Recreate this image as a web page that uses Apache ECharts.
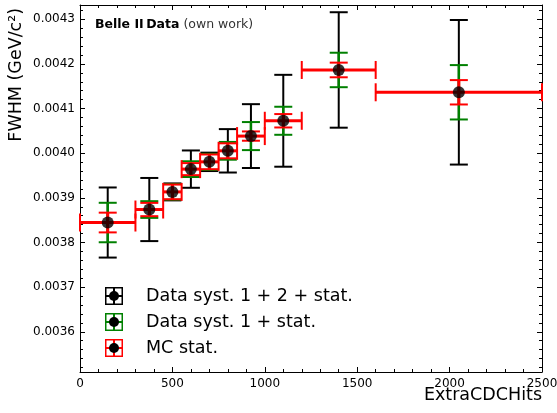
<!DOCTYPE html>
<html>
<head>
<meta charset="utf-8">
<script src="https://cdn.jsdelivr.net/npm/echarts@6/dist/echarts.min.js"></script>
<style>
  html, body { margin: 0; padding: 0; background: #fff; }
  #chart { width: 557px; height: 413px; }
</style>
</head>
<body>
<div id="chart"></div>
<script>
// Bins in ExtraCDCHits and the measured FWHM per bin
const binLow  = [0, 300, 450, 550, 650, 750, 850, 1000, 1200, 1600];
const binHigh = [300, 450, 550, 650, 750, 850, 1000, 1200, 1600, 2500];
const binCenter = [150, 375, 500, 600, 700, 800, 925, 1100, 1400, 2050];
const fwhm = [0.0038448, 0.0038739, 0.0039134, 0.0039644, 0.0039807,
              0.0040054, 0.0040384, 0.0040727, 0.0041865, 0.0041365];
// Uncertainties (half widths)
const errSyst12Stat = [0.0000785, 0.0000707, 0.0000190, 0.0000418, 0.0000206,
                       0.0000486, 0.0000715, 0.0001029, 0.0001293, 0.0001619];
const errSyst1Stat  = [0.0000442, 0.0000187, 0.0000175, 0.0000176, 0.0000180,
                       0.0000199, 0.0000314, 0.0000314, 0.0000386, 0.0000609];
const errMcStat     = [0.0000221, 0.0000149, 0.0000165, 0.0000135, 0.0000165,
                       0.0000168, 0.0000104, 0.0000150, 0.0000164, 0.0000273];

const seriesNames = ['Data syst. 1 + 2 + stat.', 'Data syst. 1 + stat.', 'MC stat.'];
const seriesColors = ['#000000', '#008000', '#ff0000'];

// Axis ticks
const xTicks = [0, 500, 1000, 1500, 2000, 2500];
const yTicks = [0.0036, 0.0037, 0.0038, 0.0039, 0.0040, 0.0041, 0.0042, 0.0043];
const yMin = 0.00351, yMax = 0.004332;
const yMinorTicks = [];
for (let k = 176; k <= 216; k++) {
  if (k % 5 !== 0) yMinorTicks.push(Number((k * 2e-5).toFixed(5)));
}

const FONT = 'DejaVu Sans';

function rows(err) {
  return binCenter.map((x, i) => [x, fwhm[i], err[i], binLow[i], binHigh[i]]);
}

function line(x1, y1, x2, y2, color, w) {
  return { type: 'line', shape: { x1, y1, x2, y2 },
           style: { stroke: color, lineWidth: w, lineCap: 'butt' } };
}

// Vertical error bar with caps; optionally the horizontal bin extent
function errorBarRenderer(color, vWidth, withBin) {
  const capHalf = 9;
  return function (params, api) {
    const x = api.value(0), y = api.value(1), e = api.value(2);
    const top = api.coord([x, y + e]);
    const bot = api.coord([x, y - e]);
    const children = [
      line(top[0], top[1], bot[0], bot[1], color, vWidth),
      line(top[0] - capHalf, top[1], top[0] + capHalf, top[1], color, 2),
      line(bot[0] - capHalf, bot[1], bot[0] + capHalf, bot[1], color, 2)
    ];
    if (withBin) {
      const l = api.coord([api.value(3), y]);
      const r = api.coord([api.value(4), y]);
      children.push(line(l[0], l[1], r[0], r[1], color, 3));
      children.push(line(l[0], l[1] - capHalf, l[0], l[1] + capHalf, color, 2));
      children.push(line(r[0], r[1] - capHalf, r[0], r[1] + capHalf, color, 2));
    }
    return { type: 'group', children };
  };
}

function legendIcon(frame) {
  const svg = '<svg xmlns="http://www.w3.org/2000/svg" width="18" height="18" viewBox="0 0 18 18">' +
    '<rect x="0.75" y="0.75" width="16.5" height="16.5" fill="#fff" stroke="' + frame + '" stroke-width="1.5"/>' +
    '<line x1="9" y1="1" x2="9" y2="17" stroke="' + frame + '" stroke-width="2"/>' +
    '<line x1="1" y1="9" x2="17" y2="9" stroke="' + frame + '" stroke-width="2"/>' +
    '<circle cx="9" cy="9" r="5" fill="#000"/></svg>';
  return 'image://data:image/svg+xml;charset=utf-8,' + encodeURIComponent(svg);
}

const baseTick = { show: true, inside: true, length: 5, lineStyle: { color: '#000', width: 1 } };

const chart = echarts.init(document.getElementById('chart'), null, { renderer: 'canvas' });
chart.setOption({
  animation: false,
  backgroundColor: '#fff',
  textStyle: { fontFamily: FONT },
  title: {
    left: 90, top: 13,
    text: '{b|Belle II\u2009Data}{n| (own work)}',
    textStyle: {
      rich: {
        b: { fontFamily: FONT, fontWeight: 'bold', fontSize: 12.5, color: '#000' },
        n: { fontFamily: FONT, fontWeight: 'normal', fontSize: 12.5, color: '#333' }
      }
    }
  },
  legend: {
    orient: 'vertical',
    left: 100, top: 282,
    itemWidth: 18, itemHeight: 18, itemGap: 8,
    data: seriesNames.map((n, i) => ({ name: n, icon: legendIcon(seriesColors[i]) })),
    textStyle: { fontFamily: FONT, fontSize: 17.5, color: '#000', padding: [0, 0, 0, 18] }
  },
  grid: { left: 80, top: 5, width: 462, height: 367, containLabel: false, outerBoundsMode: 'none' },
  xAxis: [
    {
      type: 'value', min: 0, max: 2500, interval: 500, position: 'bottom',
      name: 'ExtraCDCHits', nameLocation: 'end', nameGap: 0, nameMoveOverlap: false,
      nameTextStyle: { fontFamily: FONT, fontSize: 17.5, color: '#000', align: 'right',
                       verticalAlign: 'top', padding: [14, 0, 0, 0] },
      axisLine: { show: true, lineStyle: { color: '#000', width: 1 } },
      axisTick: baseTick,
      minorTick: { show: true, splitNumber: 5, length: 3, lineStyle: { color: '#000', width: 1 } },
      axisLabel: { fontFamily: FONT, fontSize: 12, color: '#000', margin: 6,
                   customValues: xTicks, formatter: v => String(v) },
      splitLine: { show: false }
    },
    {
      type: 'value', min: 0, max: 2500, interval: 500, position: 'top',
      axisLine: { show: true, lineStyle: { color: '#000', width: 1 } },
      axisTick: baseTick,
      minorTick: { show: true, splitNumber: 5, length: 3, lineStyle: { color: '#000', width: 1 } },
      axisLabel: { show: false },
      splitLine: { show: false }
    }
  ],
  yAxis: [
    {
      type: 'value', min: yMin, max: yMax, position: 'left',
      name: 'FWHM (GeV/c\u00B2)', nameLocation: 'end', nameGap: -3, nameRotate: 90,
      nameMoveOverlap: false,
      nameTextStyle: { fontFamily: FONT, fontSize: 17.5, color: '#000', align: 'right',
                       verticalAlign: 'bottom', padding: [0, 0, 55, 0] },
      axisLine: { show: true, lineStyle: { color: '#000', width: 1 } },
      axisTick: Object.assign({}, baseTick, { customValues: yTicks }),
      axisLabel: { fontFamily: FONT, fontSize: 12, color: '#000', margin: 5,
                   customValues: yTicks, formatter: v => v.toFixed(4) },
      splitLine: { show: false }
    },
    {
      type: 'value', min: yMin, max: yMax, position: 'left',
      axisLine: { show: false },
      axisTick: { show: true, inside: true, length: 3, customValues: yMinorTicks,
                  lineStyle: { color: '#000', width: 1 } },
      axisLabel: { show: false },
      splitLine: { show: false }
    },
    {
      type: 'value', min: yMin, max: yMax, position: 'right',
      axisLine: { show: true, lineStyle: { color: '#000', width: 1 } },
      axisTick: Object.assign({}, baseTick, { customValues: yTicks }),
      axisLabel: { show: false },
      splitLine: { show: false }
    },
    {
      type: 'value', min: yMin, max: yMax, position: 'right',
      axisLine: { show: false },
      axisTick: { show: true, inside: true, length: 3, customValues: yMinorTicks,
                  lineStyle: { color: '#000', width: 1 } },
      axisLabel: { show: false },
      splitLine: { show: false }
    }
  ],
  series: [
    {
      name: seriesNames[0], type: 'custom', xAxisIndex: 0, yAxisIndex: 0,
      itemStyle: { color: seriesColors[0] },
      renderItem: errorBarRenderer(seriesColors[0], 2, false),
      data: rows(errSyst12Stat), z: 2
    },
    {
      name: seriesNames[1], type: 'custom', xAxisIndex: 0, yAxisIndex: 0,
      itemStyle: { color: seriesColors[1] },
      renderItem: errorBarRenderer(seriesColors[1], 2.5, false),
      data: rows(errSyst1Stat), z: 3
    },
    {
      name: seriesNames[2], type: 'custom', xAxisIndex: 0, yAxisIndex: 0,
      itemStyle: { color: seriesColors[2] },
      renderItem: errorBarRenderer(seriesColors[2], 3, true),
      data: rows(errMcStat), z: 4
    },
    {
      name: 'FWHM', type: 'scatter', xAxisIndex: 0, yAxisIndex: 0,
      symbol: 'circle', symbolSize: 12,
      itemStyle: { color: '#000' },
      data: binCenter.map((x, i) => [x, fwhm[i]]), z: 5
    }
  ]
});
</script>
</body>
</html>
